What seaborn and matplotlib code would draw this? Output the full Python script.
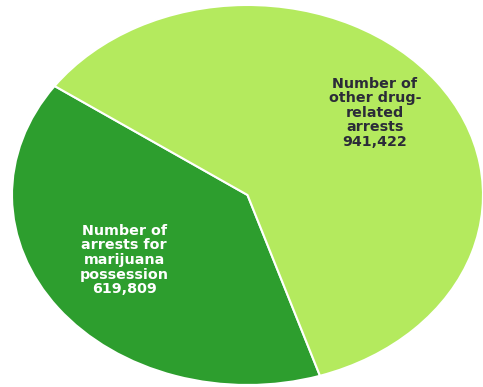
import matplotlib
matplotlib.use("Agg")
import matplotlib.pyplot as plt
import seaborn as sns

categories = ["Number of\narrests for\nmarijuana\npossession", "Number of\nother drug-\nrelated\narrests"]
values = [619809, 941422]
value_labels = ["619,809", "941,422"]

sns.set_style("white")
plt.rcParams['font.family'] = ['DejaVu Sans']
colors = sns.color_palette(["#2d9e2e", "#b4ea5e"])

fig = plt.figure(figsize=(4.83, 3.87), dpi=100)
ax = fig.add_axes([12/483, 2/387, 471/483, 380/387])
wedges, _ = ax.pie(values, colors=colors, startangle=145, counterclock=True,
                   wedgeprops=dict(edgecolor="white", linewidth=1.5))
ax.set_aspect('auto')
ax.set_xlim(-1, 1)
ax.set_ylim(-1, 1)
ax.axis('off')

pos = [(-0.524, -0.342), (0.541, 0.432)]
tcolors = ["white", "#2b2b38"]
for (x, y), c, v, tc in zip(pos, categories, value_labels, tcolors):
    ax.text(x, y, c + "\n" + v, ha="center", va="center", fontsize=10.3,
            fontweight="heavy", color=tc, linespacing=1.05)

fig.savefig("out.png", dpi=100)
